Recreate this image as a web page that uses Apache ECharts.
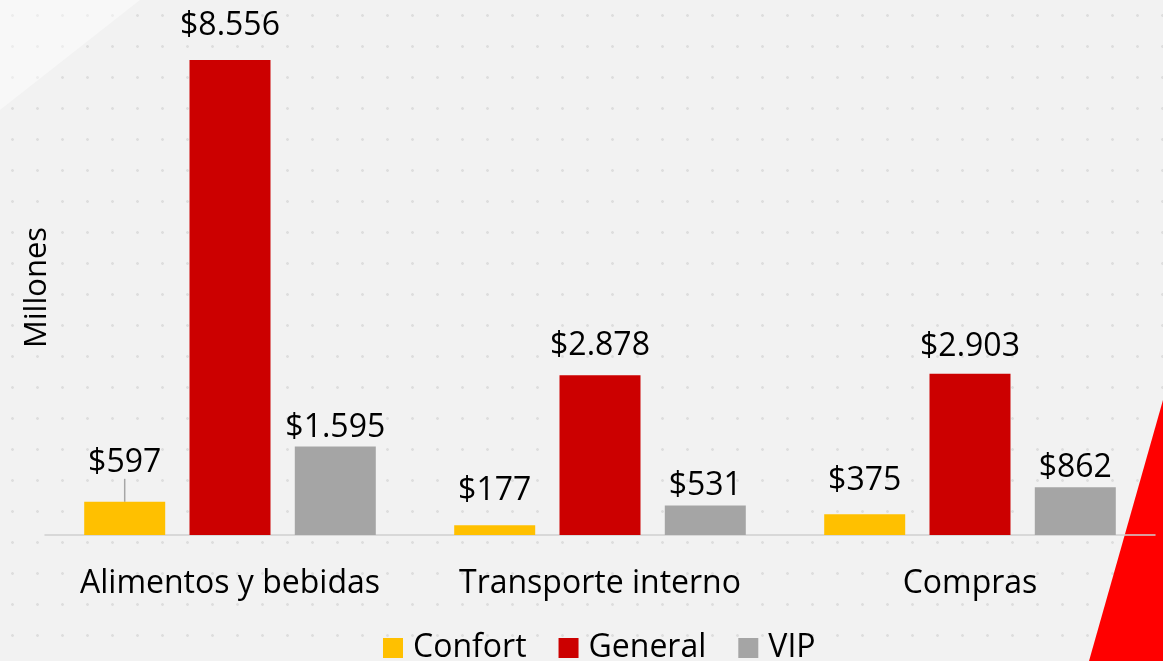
<!DOCTYPE html>
<html>
<head>
<meta charset="utf-8">
<script src="https://cdn.jsdelivr.net/npm/echarts@6/dist/echarts.min.js"></script>
<style>
    html, body { margin: 0; padding: 0; }
    body {
        width: 1163px; height: 661px; overflow: hidden;
        background-color: #f2f2f2;
        background-image: radial-gradient(circle, #dedede 1.2px, transparent 1.6px);
        background-size: 25px 31px;
    }
    #report { width: 1163px; height: 661px; }
</style>
</head>
<body>
<div id="report"></div>
<script type="text/javascript">
    // datos (millones)
    var categorias = ['Alimentos y bebidas', 'Transporte interno', 'Compras'];
    var confort = [597, 177, 375];
    var general = [8556, 2878, 2903];
    var vip = [1595, 531, 862];
    // distancia de la etiqueta sobre cada barra
    var distConfort = [5, 18, 17];
    var distGeneral = [18, 13, 11];
    var distVip = [3, 4, 3];

    function fmt(v) {
        var s = String(v);
        if (s.length > 3) {
            s = s.slice(0, s.length - 3) + '.' + s.slice(s.length - 3);
        }
        return '$' + s;
    }

    function armarDatos(valores, distancias, conLinea) {
        var out = [];
        for (var i = 0; i < valores.length; i++) {
            var item = { value: valores[i], label: { distance: distancias[i] } };
            if (conLinea && i === 0) {
                item.labelLine = { show: true, lineStyle: { color: '#a6a6a6', width: 1.5 } };
            }
            out.push(item);
        }
        return out;
    }

    var fuente = '"Open Sans", "Noto Sans", sans-serif';

    var myChart = echarts.init(document.getElementById('report'));
    var option = {
        animation: false,
        backgroundColor: 'transparent',
        color: ['#FFC000', '#CC0000', '#A5A5A5'],
        textStyle: { fontFamily: fuente },
        graphic: [
            {
                type: 'polygon',
                shape: { points: [[1163, 400], [1163, 661], [1089, 661]] },
                style: { fill: '#FF0000' },
                z: 0
            },
            {
                type: 'polygon',
                shape: { points: [[0, 0], [140, 0], [0, 110]] },
                style: { fill: 'rgba(255,255,255,0.45)' },
                z: 0
            }
        ],
        legend: {
            top: 627,
            left: 378,
            itemWidth: 20,
            itemHeight: 20,
            itemGap: 32,
            icon: 'rect',
            textStyle: { fontSize: 32, color: '#000', fontFamily: fuente, padding: [0, 0, 0, 5] }
        },
        grid: {
            left: 45,
            right: 8,
            top: 60,
            bottom: 126,
            containLabel: false
        },
        xAxis: {
            type: 'category',
            data: categorias,
            axisLine: { lineStyle: { color: '#d0d0d0', width: 1.5 } },
            axisTick: { show: false },
            axisLabel: { interval: 0, fontSize: 32, color: '#000', margin: 33, fontFamily: fuente }
        },
        yAxis: {
            type: 'value',
            min: 0,
            max: 8556,
            name: 'Millones',
            nameLocation: 'middle',
            nameGap: -8,
            nameRotate: 90,
            nameTextStyle: { fontSize: 31, color: '#000', fontFamily: fuente, padding: [0, 0, 0, 20] },
            axisLine: { show: false },
            axisTick: { show: false },
            axisLabel: { show: false },
            splitLine: { show: false }
        },
        series: [
            {
                name: 'Confort',
                type: 'bar',
                barWidth: 81,
                barGap: '30%',
                data: armarDatos(confort, distConfort, true),
                label: {
                    show: true, position: 'top', fontSize: 32, color: '#000', fontFamily: fuente,
                    formatter: function (p) { return fmt(p.value); }
                },
                labelLayout: function (p) {
                    if (p.dataIndex === 0) { return { dy: -18 }; }
                }
            },
            {
                name: 'General',
                type: 'bar',
                barWidth: 81,
                barGap: '30%',
                data: armarDatos(general, distGeneral, false),
                label: {
                    show: true, position: 'top', fontSize: 32, color: '#000', fontFamily: fuente,
                    formatter: function (p) { return fmt(p.value); }
                }
            },
            {
                name: 'VIP',
                type: 'bar',
                barWidth: 81,
                barGap: '30%',
                data: armarDatos(vip, distVip, false),
                label: {
                    show: true, position: 'top', fontSize: 32, color: '#000', fontFamily: fuente,
                    formatter: function (p) { return fmt(p.value); }
                }
            }
        ]
    };
    myChart.setOption(option);
</script>
</body>
</html>
